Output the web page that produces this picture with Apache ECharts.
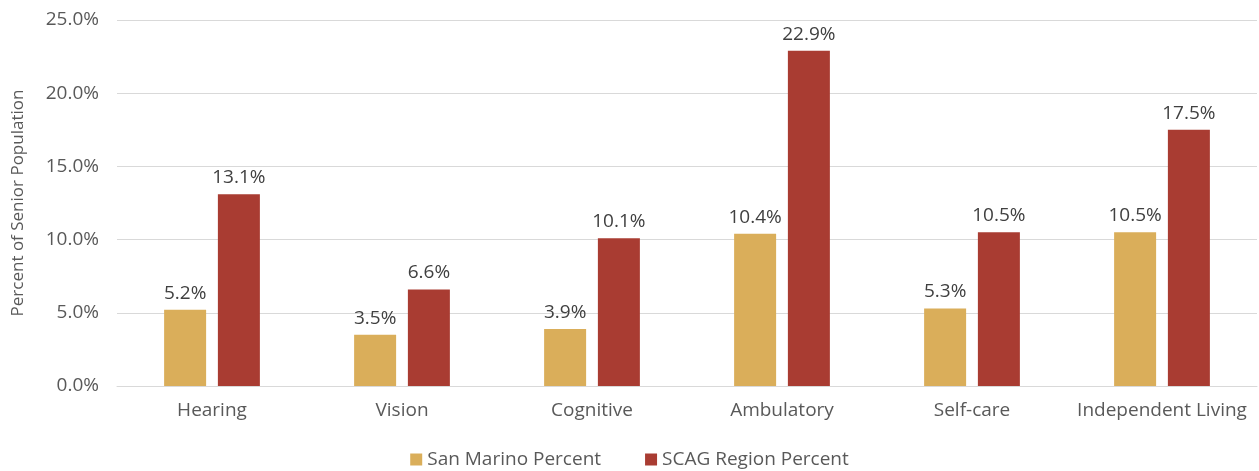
<!DOCTYPE html>
<html>
<head>
<meta charset="utf-8">
<script src="https://cdn.jsdelivr.net/npm/echarts@6/dist/echarts.min.js"></script>
<style>
  html, body { margin: 0; padding: 0; background: #fff; }
  #chart { width: 1259px; height: 471px; }
</style>
</head>
<body>
<div id="chart"></div>
<script>
const categories = ["Hearing", "Vision", "Cognitive", "Ambulatory", "Self-care", "Independent Living"];
const sanMarino = [5.2, 3.5, 3.9, 10.4, 5.3, 10.5];
const scagRegion = [13.1, 6.6, 10.1, 22.9, 10.5, 17.5];

const textColor = "#595959";
const fontFamily = "'Open Sans', 'Liberation Sans', sans-serif";

const chart = echarts.init(document.getElementById("chart"));

const barLabel = {
  show: true,
  position: "top",
  distance: 7,
  color: "#404040",
  fontSize: 19,
  fontFamily: fontFamily,
  formatter: (p) => p.value.toFixed(1) + "%",
};

chart.setOption({
  animation: false,
  textStyle: { fontFamily: fontFamily },
  legend: {
    bottom: -3,
    left: "center",
    itemWidth: 12,
    itemHeight: 12,
    itemGap: 44,
    icon: "rect",
    textStyle: { color: textColor, fontSize: 19, fontFamily: fontFamily },
    data: ["San Marino Percent", "SCAG Region Percent"],
  },
  grid: {
    left: 117,
    right: 2,
    top: 20,
    bottom: 85,
  },
  xAxis: {
    type: "category",
    data: categories,
    axisLine: { lineStyle: { color: "#d9d9d9" } },
    axisTick: { show: false },
    axisLabel: { color: textColor, fontSize: 19, margin: 15, interval: 0, fontFamily: fontFamily },
  },
  yAxis: {
    type: "value",
    min: 0,
    max: 25,
    interval: 5,
    name: "Percent of Senior Population",
    nameLocation: "middle",
    nameGap: 90,
    nameTextStyle: { color: textColor, fontSize: 17, fontFamily: fontFamily },
    axisLine: { show: false },
    axisTick: { show: false },
    axisLabel: {
      color: textColor,
      fontSize: 19,
      margin: 18,
      fontFamily: fontFamily,
      formatter: (v) => v.toFixed(1) + "%",
    },
    splitLine: { lineStyle: { color: "#d9d9d9", width: 1 } },
  },
  series: [
    {
      name: "San Marino Percent",
      type: "bar",
      data: sanMarino,
      barWidth: 42,
      barGap: "28%",
      itemStyle: { color: "#DAAE5A" },
      label: barLabel,
    },
    {
      name: "SCAG Region Percent",
      type: "bar",
      data: scagRegion,
      barWidth: 42,
      itemStyle: { color: "#A93C32" },
      label: barLabel,
    },
  ],
});
</script>
</body>
</html>
